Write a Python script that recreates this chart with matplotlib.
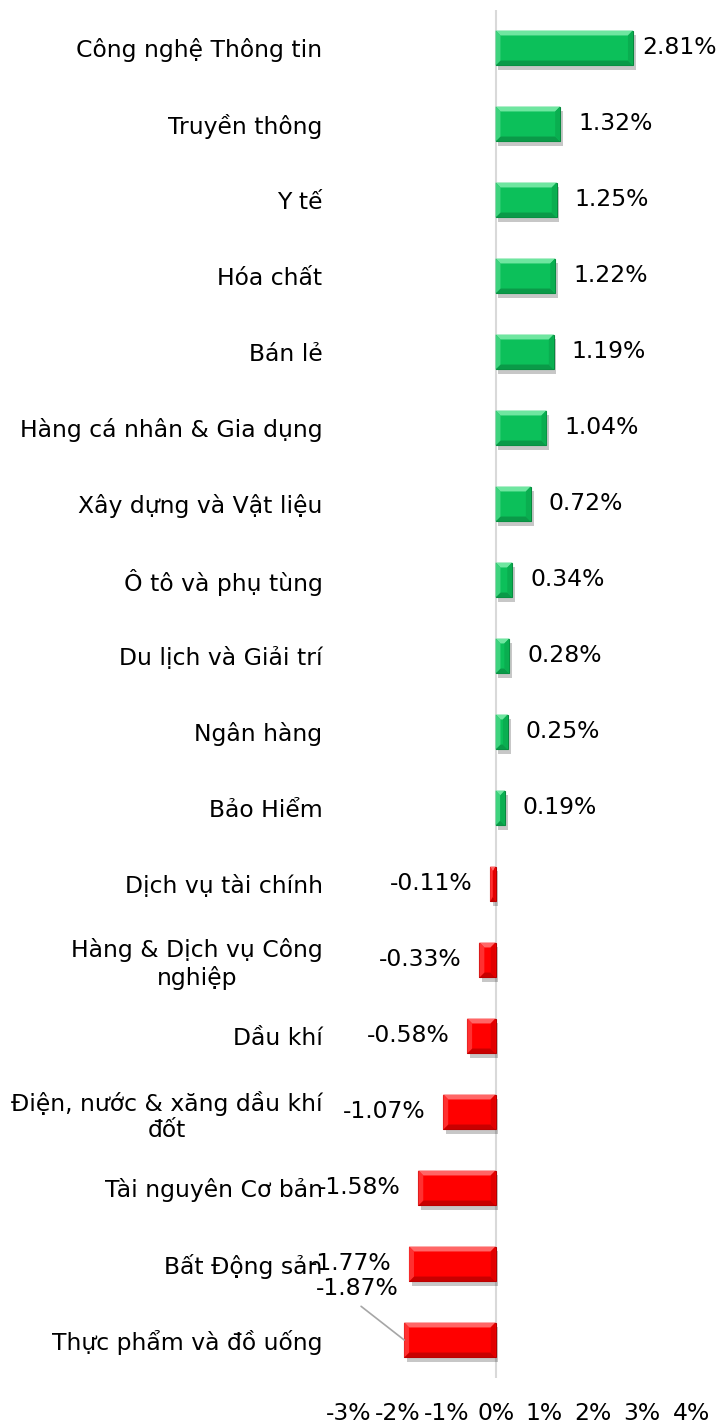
import numpy as np
import matplotlib.pyplot as plt
from matplotlib.patches import Polygon
import matplotlib.patheffects as pe

# dữ liệu ngành
nganh = ['Công nghệ Thông tin', 'Truyền thông', 'Y tế', 'Hóa chất', 'Bán lẻ',
         'Hàng cá nhân & Gia dụng', 'Xây dựng và Vật liệu', 'Ô tô và phụ tùng',
         'Du lịch và Giải trí', 'Ngân hàng', 'Bảo Hiểm', 'Dịch vụ tài chính',
         'Hàng & Dịch vụ Công\nnghiệp', 'Dầu khí', 'Điện, nước & xăng dầu khí\nđốt',
         'Tài nguyên Cơ bản', 'Bất Động sản', 'Thực phẩm và đồ uống']
thay_doi = [2.81, 1.32, 1.25, 1.22, 1.19, 1.04, 0.72, 0.34, 0.28, 0.25, 0.19,
            -0.11, -0.33, -0.58, -1.07, -1.58, -1.77, -1.87]
xticks = [-3, -2, -1, 0, 1, 2, 3, 4]

plt.rcParams['font.family'] = ['DejaVu Sans']
fs = 16.9

fig = plt.figure(figsize=(7.23, 14.26), dpi=100)
ax = fig.add_axes([349/723, 48/1426, 342/723, 1368/1426])

y = np.arange(len(nganh))
h = 0.46
mau = ['#0CC05A' if v >= 0 else '#FF0000' for v in thay_doi]
vien = ['#07873D' if v >= 0 else '#B00000' for v in thay_doi]
bars = ax.barh(y, thay_doi, height=h, color=mau, edgecolor=vien, linewidth=0.8, zorder=3)
for b in bars:
    b.set_path_effects([pe.SimplePatchShadow(offset=(2, -3), shadow_rgbFace='#000000', alpha=0.22),
                        pe.Normal()])

# hiệu ứng vát cạnh
for i, v in enumerate(thay_doi):
    x0, x1 = min(0, v), max(0, v)
    top, bot = i - h / 2, i + h / 2
    bx = min(0.1, (x1 - x0) / 2)
    by = 0.065
    sang = '#6FE6A0' if v >= 0 else '#FF6666'
    toi = '#0A9A48' if v >= 0 else '#C80000'
    canh_trai = '#3ED37E' if v >= 0 else '#FF3030'
    canh_phai = '#0AAE50' if v >= 0 else '#E00000'
    polys = [
        ([(x0, top), (x1, top), (x1 - bx, top + by), (x0 + bx, top + by)], sang),
        ([(x0, bot), (x1, bot), (x1 - bx, bot - by), (x0 + bx, bot - by)], toi),
        ([(x0, top), (x0 + bx, top + by), (x0 + bx, bot - by), (x0, bot)], canh_trai),
        ([(x1, top), (x1 - bx, top + by), (x1 - bx, bot - by), (x1, bot)], canh_phai),
    ]
    for pts, c in polys:
        ax.add_patch(Polygon(pts, closed=True, facecolor=c, edgecolor='none', zorder=4))

# nhãn giá trị
for i, v in enumerate(thay_doi):
    txt = f'{v:.2f}%'
    if i == len(thay_doi) - 1:
        ax.annotate(txt, xy=(v, i), xytext=(-4, 37), textcoords='offset points',
                    ha='right', va='center', fontsize=fs, zorder=5,
                    arrowprops=dict(arrowstyle='-', color='#A6A6A6', lw=1.2,
                                    relpos=(0.45, 0), shrinkA=4, shrinkB=0))
    elif v >= 0:
        off = 6.5 if v > 2.5 else 13
        ax.annotate(txt, xy=(v, i), xytext=(off, 0), textcoords='offset points',
                    ha='left', va='center', fontsize=fs, zorder=5)
    else:
        ax.annotate(txt, xy=(v, i), xytext=(-13, 0), textcoords='offset points',
                    ha='right', va='center', fontsize=fs, zorder=5)

ax.set_xlim(-3, 4)
ax.set_ylim(len(nganh) - 0.5, -0.5)
ax.set_yticks(y)
ax.set_yticklabels(nganh, fontsize=fs)
for lb in ax.get_yticklabels():
    lb.set_multialignment('center')
ax.set_xticks(xticks)
ax.set_xticklabels([f'{t}%' for t in xticks], fontsize=fs)
ax.tick_params(axis='y', length=0, pad=19)
ax.tick_params(axis='x', length=0, pad=17)
for s in ['top', 'right', 'bottom', 'left']:
    ax.spines[s].set_visible(False)
ax.axvline(0, color='#D9D9D9', lw=1.5, zorder=2)

fig.savefig('out.png', dpi=100)
